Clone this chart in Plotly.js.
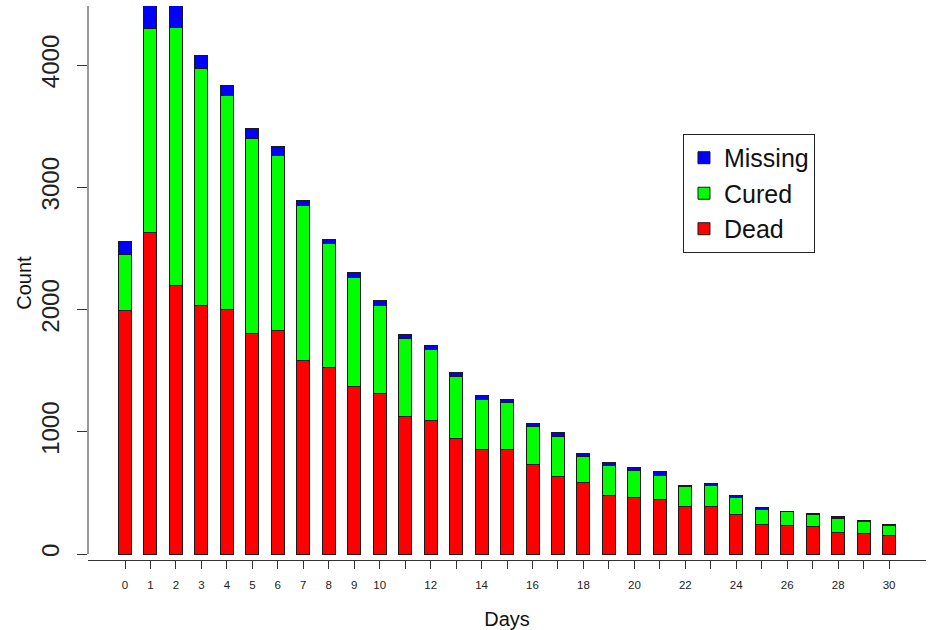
<!DOCTYPE html>
<html>
<head>
<meta charset="utf-8">
<script src="https://cdn.plot.ly/plotly-3.0.1.min.js"></script>
<style>html,body{margin:0;padding:0;background:#fff;}#chart{width:930px;height:630px;}</style>
</head>
<body>
<div id="chart"></div>
<script>
const days = [0,1,2,3,4,5,6,7,8,9,10,11,12,13,14,15,16,17,18,19,20,21,22,23,24,25,26,27,28,29,30];
const dead = [1990,2632,2195,2029,2004,1800,1827,1585,1527,1372,1315,1129,1096,947,859,851,734,636,587,480,464,444,385,385,325,245,232,221,172,164,153];
const cured = [464,1668,2114,1944,1745,1601,1437,1262,1015,889,722,636,581,509,404,390,313,324,212,242,221,200,166,174,139,121,112,106,120,100,82];
const missing = [101,185,180,109,82,81,66,49,32,44,35,27,27,27,32,27,17,32,25,25,24,27,8,14,11,16,5,6,13,8,10];
const tickLabels = ['0','1','2','3','4','5','6','7','8','9','10','','12','','14','','16','','18','','20','','22','','24','','26','','28','','30'];
const yTicks = [0,1000,2000,3000,4000];

const font = 'Liberation Sans, Arial, sans-serif';
const line = {color:'#1a1a1a', width:1};
function tr(name, vals, color, rank){
  return {type:'bar', name:name, x:days, y:vals, width:0.51, legendrank:rank,
    marker:{color:color, line:line}, hoverinfo:'y'};
}
const data = [tr('Dead', dead, '#ff0000', 3), tr('Cured', cured, '#00ff00', 2), tr('Missing', missing, '#0000ff', 1)];

const layout = {
  width:930, height:630,
  margin:{l:88, r:4, t:6, b:70},
  paper_bgcolor:'#fff', plot_bgcolor:'#fff',
  barmode:'stack',
  font:{family:font, color:'#111'},
  xaxis:{range:[-1.453,31.45], tickmode:'array', tickvals:days, ticktext:tickLabels,
    showgrid:false, zeroline:false, showline:true, linecolor:'#333', linewidth:1,
    ticks:'outside', ticklen:8, tickcolor:'#333', ticklabelstandoff:6, tickfont:{size:11.5, color:'#222'},
    title:{text:'Days', font:{size:20, color:'#111'}, standoff:22}},
  yaxis:{range:[-49,4483], tickmode:'array', tickvals:yTicks, tickangle:-90,
    showgrid:false, zeroline:false, showline:false,
    ticks:'outside', ticklen:10, tickcolor:'#333', ticklabelstandoff:8, tickfont:{size:24, color:'#222'},
    title:{text:'Count', font:{size:20, color:'#111'}, standoff:0}},
  shapes:[{type:'line', xref:'paper', yref:'y', x0:0, x1:0, y0:0, y1:4483, line:{color:'#333', width:1}}],
  legend:{x:0.71, y:0.769, xanchor:'left', yanchor:'top', traceorder:'normal',
    bordercolor:'#222', borderwidth:1, bgcolor:'#fff',
    font:{size:25, color:'#111'}},
  showlegend:true
};
Plotly.newPlot('chart', data, layout, {staticPlot:true});
</script>
</body>
</html>
